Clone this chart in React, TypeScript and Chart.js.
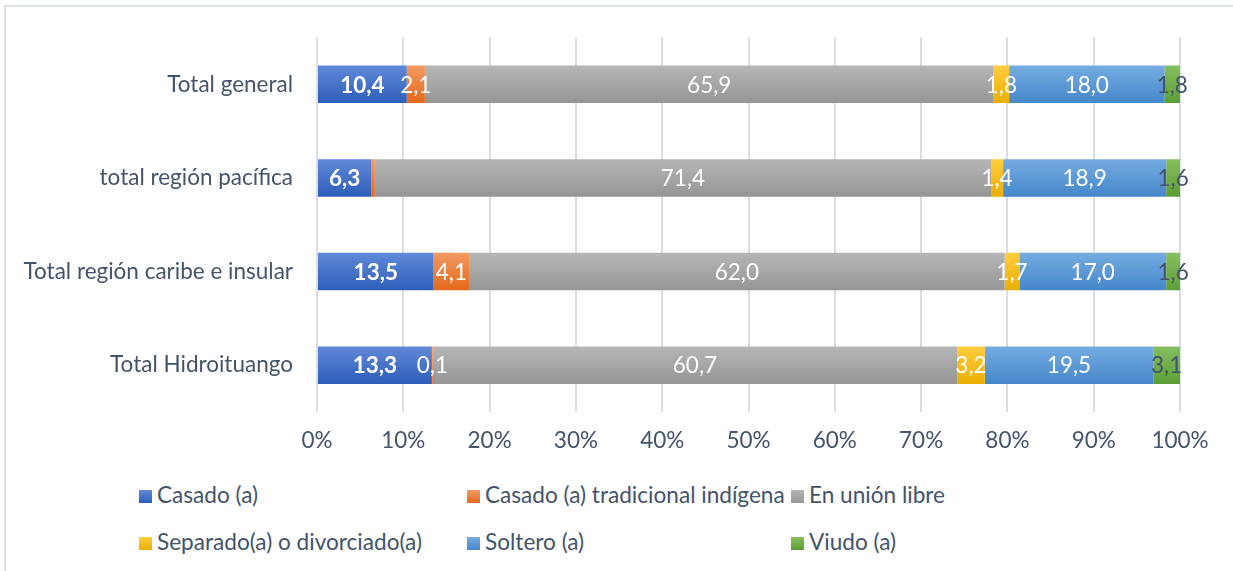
import React, { useEffect, useRef } from "react";
import { Chart, registerables } from "chart.js";

Chart.register(...registerables);

const categories = [
  "Total general",
  "total región pacífica",
  "Total región caribe e insular",
  "Total Hidroituango",
];
const seriesNames = [
  "Casado (a)",
  "Casado (a) tradicional indígena",
  "En unión libre",
  "Separado(a) o divorciado(a)",
  "Soltero (a)",
  "Viudo (a)",
];
const casado = [10.4, 6.3, 13.5, 13.3];
const casadoIndigena = [2.1, 0.4, 4.1, 0.1];
const unionLibre = [65.9, 71.4, 62.0, 60.7];
const separado = [1.8, 1.4, 1.7, 3.2];
const soltero = [18.0, 18.9, 17.0, 19.5];
const viudo = [1.8, 1.6, 1.6, 3.1];
// label visibility for the indígena series (pacífica's segment has no label)
const showIndigenaLabel = [true, false, true, true];

const colorsTop = ["#6089D8", "#F39A62", "#B6B6B6", "#FFCD40", "#75ACE1", "#86BF60"];
const colorsBottom = ["#2E5EB9", "#E4691B", "#969696", "#E9AF00", "#4587CA", "#5D9D35"];
const labelColors = ["#FFFFFF", "#FFFFFF", "#FFFFFF", "#FFFFFF", "#FFFFFF", "#44546A"];
const labelBold = [true, false, false, false, false, false];

const FONT = "Lato, 'Open Sans', sans-serif";
const FONT_SIZE = 22.5;
const LEGEND_SIZE = 22.6;
const TEXT = "#44546A";

const allSeries = [casado, casadoIndigena, unionLibre, separado, soltero, viudo];
const rowTotals = categories.map((_, i) => allSeries.reduce((s, arr) => s + arr[i], 0));

const fmt = (v: number) => v.toFixed(1).replace(".", ",");

const gradientPlugin = {
  id: "barGradient",
  beforeDatasetsDraw(chart: any) {
    const ctx = chart.ctx;
    chart.data.datasets.forEach((ds: any, di: number) => {
      const meta = chart.getDatasetMeta(di);
      meta.data.forEach((el: any) => {
        const h = el.height;
        const g = ctx.createLinearGradient(0, el.y - h / 2, 0, el.y + h / 2);
        g.addColorStop(0, colorsTop[di]);
        g.addColorStop(1, colorsBottom[di]);
        el.options = { ...el.options, backgroundColor: g };
      });
    });
  },
};

const labelPlugin = {
  id: "segLabels",
  afterDatasetsDraw(chart: any) {
    const ctx = chart.ctx;
    ctx.save();
    ctx.textAlign = "center";
    ctx.textBaseline = "middle";
    chart.data.datasets.forEach((ds: any, di: number) => {
      const meta = chart.getDatasetMeta(di);
      meta.data.forEach((el: any, i: number) => {
        if (di === 1 && !showIndigenaLabel[i]) return;
        const raw = ds.rawValues[i];
        const c = el.getCenterPoint();
        ctx.fillStyle = labelColors[di];
        ctx.font = `${labelBold[di] ? "bold " : ""}${FONT_SIZE}px ${FONT}`;
        ctx.fillText(fmt(raw), c.x, c.y + 1);
      });
    });
    ctx.restore();
  },
};

export default function App() {
  const ref = useRef<HTMLCanvasElement>(null);

  useEffect(() => {
    if (!ref.current) return;
    const chart = new Chart(ref.current, {
      type: "bar",
      data: {
        labels: categories,
        datasets: allSeries.map((arr, di) => ({
          label: seriesNames[di],
          data: arr.map((v, i) => (v / rowTotals[i]) * 100),
          rawValues: arr,
          backgroundColor: () => colorsBottom[di],
          borderWidth: 0,
          barPercentage: 0.4,
          categoryPercentage: 1,
        })) as any,
      },
      options: {
        indexAxis: "y",
        animation: false,
        responsive: false,
        maintainAspectRatio: false,
        layout: { padding: { top: 36, right: 53, left: 0, bottom: 0 } },
        plugins: {
          legend: { display: false },
          tooltip: { enabled: false },
        },
        scales: {
          x: {
            stacked: true,
            min: 0,
            max: 100,
            ticks: {
              stepSize: 10,
              callback: (v: any) => v + "%",
              color: TEXT,
              font: { family: FONT, size: FONT_SIZE },
              padding: 15,
              maxRotation: 0,
            },
            grid: { color: "#D9DEE5", lineWidth: 2, drawTicks: false },
            border: { display: false },
            afterFit: (s: any) => {
              s.height = 48;
            },
          },
          y: {
            stacked: true,
            ticks: {
              color: TEXT,
              font: { family: FONT, size: FONT_SIZE },
              padding: 24,
            },
            grid: { display: false, drawTicks: false },
            border: { display: false },
            afterFit: (s: any) => {
              s.width = 317;
            },
          },
        },
      },
      plugins: [gradientPlugin, labelPlugin],
    });
    return () => chart.destroy();
  }, []);

  const legendCols = [139, 467, 791];
  const legendRows = [494, 541];

  return (
    <div style={{ position: "fixed", left: 0, top: 0, width: 1233, height: 571, background: "#fff", fontFamily: FONT }}>
      <div
        style={{
          position: "absolute",
          left: 4,
          top: 5,
          width: 1229,
          height: 566,
          borderTop: "2px solid #DDE2E8",
          borderLeft: "2px solid #DDE2E8",
          boxSizing: "border-box",
        }}
      />
      <canvas ref={ref} width={1233} height={460} style={{ position: "absolute", left: 0, top: 0, width: 1233, height: 460 }} />
      {seriesNames.map((name, i) => {
        const col = i % 3;
        const row = Math.floor(i / 3);
        return (
          <div
            key={name}
            style={{
              position: "absolute",
              left: legendCols[col],
              top: legendRows[row] - 15,
              height: 30,
              display: "flex",
              alignItems: "center",
              whiteSpace: "nowrap",
              color: TEXT,
              fontSize: LEGEND_SIZE,
            }}
          >
            <span
              style={{
                display: "inline-block",
                width: 13,
                height: 13,
                marginRight: 5,
                marginTop: 4,
                background: `linear-gradient(${colorsTop[i]}, ${colorsBottom[i]})`,
              }}
            />
            <span>{name}</span>
          </div>
        );
      })}
    </div>
  );
}
